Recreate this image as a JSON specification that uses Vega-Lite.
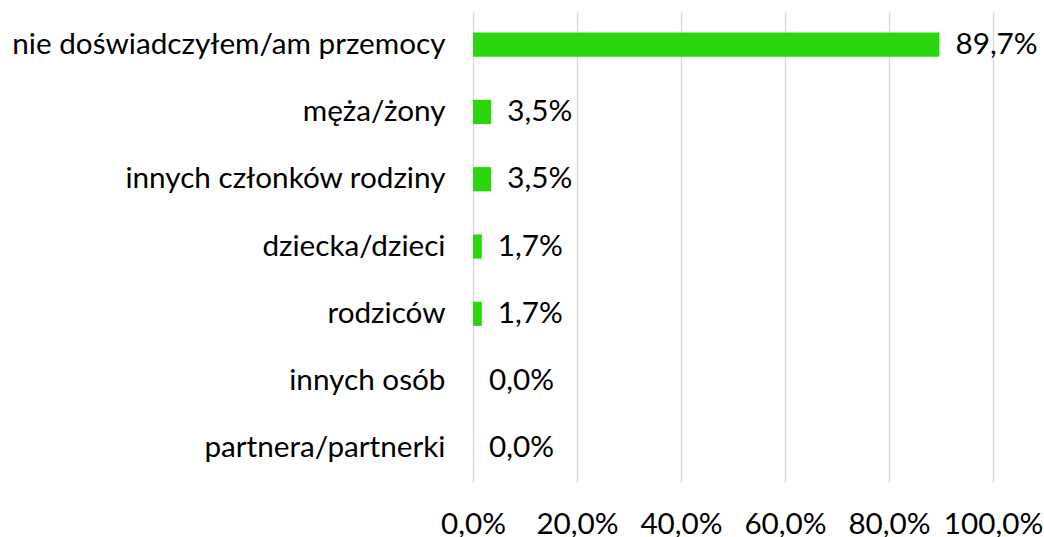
{
  "$schema": "https://vega.github.io/schema/vega-lite/v6.json",
  "autosize": {"type": "none"},
  "width": 520,
  "height": 471,
  "padding": {"left": 473, "top": 11, "right": 51, "bottom": 55},
  "background": "white",
  "config": {
    "view": {"stroke": null},
    "font": "Lato",
    "locale": {"number": {"decimal": ",", "thousands": " ", "grouping": [3], "currency": ["", " zł"]}}
  },
  "data": {"values": [
    {"kategoria": "nie doświadczyłem/am przemocy", "wartosc": 0.897},
    {"kategoria": "męża/żony", "wartosc": 0.035},
    {"kategoria": "innych członków rodziny", "wartosc": 0.035},
    {"kategoria": "dziecka/dzieci", "wartosc": 0.017},
    {"kategoria": "rodziców", "wartosc": 0.017},
    {"kategoria": "innych osób", "wartosc": 0.0},
    {"kategoria": "partnera/partnerki", "wartosc": 0.0}
  ]},
  "encoding": {
    "y": {"field": "kategoria", "type": "nominal", "sort": null,
      "scale": {"paddingInner": 0.64, "paddingOuter": 0.32},
      "axis": {"title": null, "domain": false, "ticks": false, "grid": false, "labelPadding": 28, "labelFontSize": 29.7, "labelColor": "#000000", "labelFont": "Lato", "labelLimit": 600}},
    "x": {"field": "wartosc", "type": "quantitative",
      "scale": {"domain": [0, 1], "nice": false},
      "axis": {"title": null, "format": ".1%", "values": [0, 0.2, 0.4, 0.6, 0.8, 1.0], "domain": false, "ticks": false, "grid": true, "gridColor": "#D9D9D9", "gridWidth": 1.3, "labelPadding": 42, "labelFontSize": 29.7, "labelColor": "#000000", "labelFont": "Lato", "labelBaseline": "middle", "labelFlush": false}}
  },
  "layer": [
    {"mark": {"type": "bar", "color": "#2BD60F"}},
    {"mark": {"type": "text", "align": "left", "baseline": "middle", "dx": 16, "fontSize": 29.7, "color": "#000000", "font": "Lato"},
     "encoding": {"text": {"field": "wartosc", "type": "quantitative", "format": ".1%"}}}
  ]
}
